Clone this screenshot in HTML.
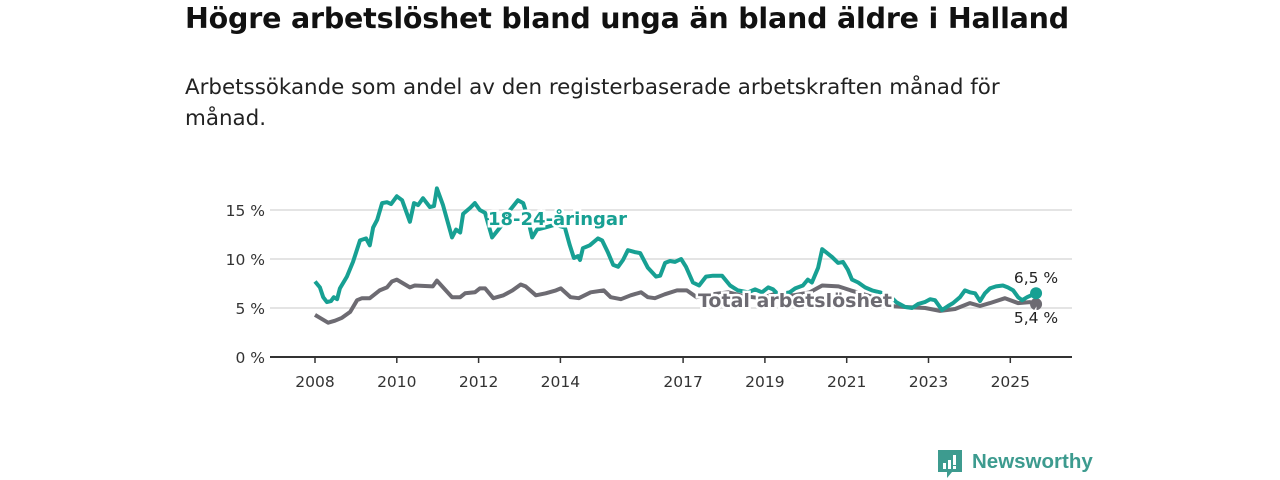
<!DOCTYPE html>
<html><head><meta charset="utf-8"><style>
body{margin:0;width:1280px;height:480px;background:#fff;font-family:"DejaVu Sans","Liberation Sans",sans-serif;overflow:hidden;position:relative}
h1{position:absolute;left:185px;top:2px;margin:0;font-size:28.5px;font-weight:bold;color:#111;white-space:nowrap;letter-spacing:-0.2px}
p{position:absolute;left:185px;top:72px;margin:0;font-size:21.4px;line-height:31px;color:#222;width:860px}
svg{position:absolute;left:0;top:0}
</style></head><body>
<h1>Högre arbetslöshet bland unga än bland äldre i Halland</h1>
<p>Arbetssökande som andel av den registerbaserade arbetskraften månad för månad.</p>
<svg id="c" width="1280" height="480"></svg>
<script>
const yTicks=[0,5,10,15];
const yTickLabels=["0 %","5 %","10 %","15 %"];
const xTicks=[2008,2010,2012,2014,2017,2019,2021,2023,2025];
const youthYears=[2008.00,2008.12,2008.20,2008.29,2008.39,2008.46,2008.54,2008.61,2008.78,2008.93,2009.10,2009.25,2009.34,2009.42,2009.52,2009.64,2009.76,2009.86,2010.00,2010.13,2010.32,2010.42,2010.52,2010.64,2010.81,2010.91,2010.98,2011.13,2011.35,2011.45,2011.55,2011.62,2011.79,2011.91,2012.03,2012.16,2012.33,2012.52,2012.77,2012.96,2013.09,2013.18,2013.31,2013.43,2013.62,2013.87,2014.11,2014.23,2014.33,2014.43,2014.48,2014.55,2014.72,2014.92,2015.02,2015.16,2015.29,2015.41,2015.53,2015.65,2015.82,2015.95,2016.14,2016.34,2016.44,2016.56,2016.68,2016.80,2016.95,2017.07,2017.24,2017.39,2017.56,2017.73,2017.95,2018.15,2018.34,2018.59,2018.76,2018.93,2019.08,2019.20,2019.32,2019.61,2019.74,2019.93,2020.05,2020.15,2020.30,2020.40,2020.52,2020.64,2020.79,2020.91,2021.03,2021.13,2021.28,2021.45,2021.62,2021.81,2022.06,2022.21,2022.43,2022.60,2022.74,2022.91,2023.04,2023.16,2023.33,2023.48,2023.60,2023.77,2023.89,2024.01,2024.14,2024.26,2024.38,2024.50,2024.65,2024.82,2024.94,2025.07,2025.19,2025.29,2025.41,2025.51,2025.63];
const youthValues=[7.7,7.1,6.1,5.6,5.7,6.1,5.9,7.0,8.2,9.7,11.9,12.1,11.4,13.2,14.0,15.7,15.8,15.6,16.4,16.0,13.8,15.7,15.5,16.2,15.3,15.4,17.2,15.5,12.2,13.0,12.7,14.6,15.2,15.7,15.0,14.7,12.2,13.2,15.0,16.0,15.7,14.5,12.2,13.0,13.2,13.5,13.2,11.4,10.1,10.3,9.9,11.1,11.4,12.1,11.9,10.7,9.4,9.2,9.9,10.9,10.7,10.6,9.1,8.2,8.3,9.6,9.8,9.7,10.0,9.2,7.6,7.3,8.2,8.3,8.3,7.3,6.8,6.6,6.9,6.6,7.1,6.9,6.4,6.6,7.0,7.3,7.9,7.6,9.1,11.0,10.6,10.2,9.6,9.7,8.9,7.9,7.6,7.1,6.8,6.6,6.2,5.6,5.1,5.0,5.4,5.6,5.9,5.8,4.8,5.2,5.5,6.1,6.8,6.6,6.5,5.7,6.5,7.0,7.2,7.3,7.1,6.8,6.1,5.8,6.1,6.3,6.5];
const totalYears=[2008.00,2008.12,2008.32,2008.49,2008.66,2008.86,2009.03,2009.15,2009.34,2009.58,2009.76,2009.88,2010.00,2010.32,2010.44,2010.88,2010.98,2011.35,2011.55,2011.67,2011.91,2012.03,2012.16,2012.36,2012.61,2012.83,2013.03,2013.15,2013.40,2013.64,2013.89,2014.01,2014.25,2014.45,2014.74,2015.06,2015.23,2015.48,2015.72,2015.97,2016.14,2016.31,2016.55,2016.85,2017.09,2017.33,2017.70,2018.10,2018.50,2018.90,2019.30,2019.70,2020.10,2020.40,2020.80,2021.10,2021.50,2021.85,2022.06,2022.43,2022.92,2023.28,2023.65,2024.01,2024.26,2024.50,2024.87,2025.19,2025.48,2025.63];
const totalValues=[4.3,4.0,3.5,3.7,4.0,4.6,5.8,6.0,6.0,6.8,7.1,7.7,7.9,7.1,7.3,7.2,7.8,6.1,6.1,6.5,6.6,7.0,7.0,6.0,6.3,6.8,7.4,7.2,6.3,6.5,6.8,7.0,6.1,6.0,6.6,6.8,6.1,5.9,6.3,6.6,6.1,6.0,6.4,6.8,6.8,6.1,6.4,6.6,6.2,6.0,6.5,6.3,6.6,7.3,7.2,6.8,6.3,5.8,5.2,5.1,5.0,4.7,4.9,5.5,5.2,5.5,6.0,5.5,5.6,5.4];
const NS="http://www.w3.org/2000/svg",svg=document.getElementById('c');
const X=y=>315+(y-2008)*40.9, Y=v=>357-v*9.8;
function mk(t,a,p){const e=document.createElementNS(NS,t);for(const k in a)e.setAttribute(k,a[k]);(p||svg).appendChild(e);return e;}
yTicks.forEach((v,i)=>{
 const g=mk('line',{x1:270,x2:1072,y1:Y(v),y2:Y(v),stroke:'#dcdcdc','stroke-width':1.5});
 
 
 const t=mk('text',{x:265,y:Y(v)+6,'text-anchor':'end','font-size':15.5,fill:'#333'});t.textContent=yTickLabels[i];
 
 
});
const ax=mk('line',{x1:270,x2:1072,y1:357,y2:357,stroke:'#333','stroke-width':2});


xTicks.forEach(yr=>{
 const tk=mk('line',{x1:X(yr),x2:X(yr),y1:357,y2:363,stroke:'#333','stroke-width':1.5});
 
 
 const t=mk('text',{x:X(yr),y:387,'text-anchor':'middle','font-size':15.5,fill:'#333'});t.textContent=yr;
 
 
});
function line(xs,vs,col,name){
 const d=xs.map((x,i)=>(i?'L':'M')+X(x).toFixed(1)+','+Y(vs[i]).toFixed(1)).join('');
 const p=mk('path',{d:d,fill:'none',stroke:col,'stroke-width':4,'stroke-linejoin':'round'});
 
 
 const n=xs.length-1;
 const c=mk('circle',{cx:X(xs[n]),cy:Y(vs[n]),r:6,fill:col});
 
 
}
line(totalYears,totalValues,'#6d6b72','total-line');
line(youthYears,youthValues,'#17a093','youth-line');
function lab(x,y,txt,col,name,size,bold,anchor){
 const t=mk('text',{x:x,y:y,'font-size':size,'font-weight':bold?'bold':'normal',fill:col,stroke:'#fff','stroke-width':bold?5:4,'paint-order':'stroke','text-anchor':anchor||'start'});
 t.textContent=txt;
 
 
}
lab(488,225,'18-24-åringar','#17a093','youth-label',18,true);
lab(698,307,'Total arbetslöshet','#6d6b72','total-label',19,true);
lab(1036,283,'6,5 %','#222','youth-end-value',15.5,false,'middle');
lab(1036,323,'5,4 %','#222','total-end-value',15.5,false,'middle');
</script>
<div style="position:absolute;left:938px;top:450px;height:30px">
<svg width="26" height="30" style="position:absolute;left:0;top:0"><path d="M0 0H24V22H14L9 28V22H0Z" fill="#3d9b8f"/><rect x="5" y="13" width="3" height="6" fill="#fff"/><rect x="10" y="10" width="3" height="9" fill="#fff"/><rect x="15" y="5" width="3" height="10" fill="#fff"/><rect x="15" y="16" width="3" height="3" fill="#fff"/></svg>
<span style="position:absolute;left:34px;top:0;font-size:20.5px;font-weight:bold;color:#3d9b8f;white-space:nowrap;font-family:'Liberation Sans',sans-serif">Newsworthy</span>
</div>
</body></html>
